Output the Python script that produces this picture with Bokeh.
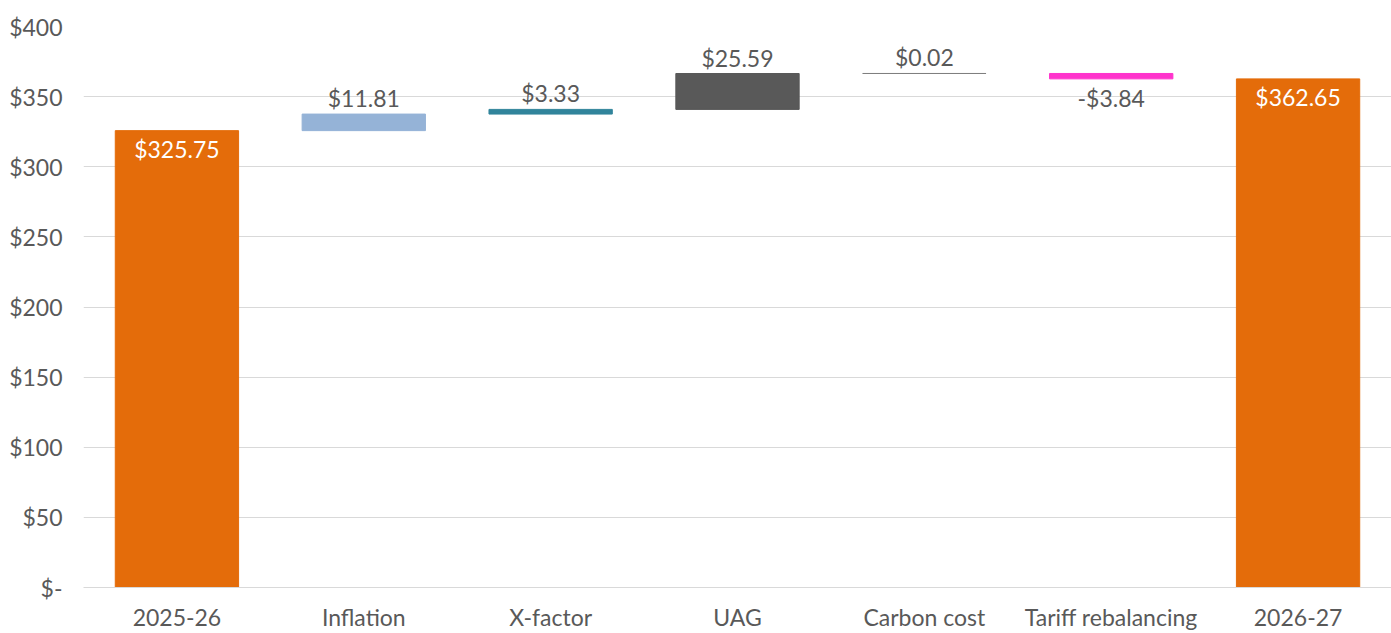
from bokeh.plotting import figure
from bokeh.models import ColumnDataSource, LabelSet, FixedTicker, CustomJSTickFormatter
from bokeh.core.properties import value
from bokeh.embed import file_html
from bokeh.resources import INLINE

categories = ["2025-26", "Inflation", "X-factor", "UAG", "Carbon cost", "Tariff rebalancing", "2026-27"]
start_value = 325.75
deltas = [11.81, 3.33, 25.59, 0.02, -3.84]
end_value = 362.65
labels = ["$325.75", "$11.81", "$3.33", "$25.59", "$0.02", "-$3.84", "$362.65"]
colors = ["#E46C0A", "#95B3D7", "#31849B", "#595959", "#7F7F7F", "#FF33CC", "#E46C0A"]
y_ticks = [0, 50, 100, 150, 200, 250, 300, 350, 400]

bottoms, tops = [0.0], [start_value]
running = start_value
for d in deltas:
    nxt = running + d
    bottoms.append(min(running, nxt))
    tops.append(max(running, nxt))
    running = nxt
bottoms.append(0.0)
tops.append(end_value)

FONT = "Lato"
GRAY = "#595959"
FS = "23px"

p = figure(x_range=categories, y_range=(0, 400), width=1391, height=633,
           output_backend="svg", toolbar_location=None,
           min_border_left=83, min_border_right=0, min_border_top=26, min_border_bottom=46)
p.outline_line_color = None
p.background_fill_color = "white"

src = ColumnDataSource(dict(x=categories, bottom=bottoms, top=tops, color=colors))
p.vbar(x="x", bottom="bottom", top="top", width=0.66, fill_color="color",
       line_color="color", line_width=1, source=src)

# labels
up_x, up_y, up_t = [], [], []
dn_x, dn_y, dn_t = [], [], []
in_x, in_y, in_t = [], [], []
for i, c in enumerate(categories):
    if i == 0 or i == len(categories) - 1:
        in_x.append(c); in_y.append(tops[i]); in_t.append(labels[i])
    elif deltas[i - 1] >= 0:
        up_x.append(c); up_y.append(tops[i]); up_t.append(labels[i])
    else:
        dn_x.append(c); dn_y.append(bottoms[i]); dn_t.append(labels[i])

common = dict(text_font=value(FONT), text_font_size=value(FS), text_align="center")
p.add_layout(LabelSet(x="x", y="y", text="t", source=ColumnDataSource(dict(x=up_x, y=up_y, t=up_t)),
                      text_baseline="bottom", y_offset=2, text_color=GRAY, **common))
p.add_layout(LabelSet(x="x", y="y", text="t", source=ColumnDataSource(dict(x=dn_x, y=dn_y, t=dn_t)),
                      text_baseline="top", y_offset=-5, text_color=GRAY, **common))
p.add_layout(LabelSet(x="x", y="y", text="t", source=ColumnDataSource(dict(x=in_x, y=in_y, t=in_t)),
                      text_baseline="top", y_offset=-4, text_color="white", **common))

p.yaxis.ticker = FixedTicker(ticks=y_ticks)
p.yaxis.formatter = CustomJSTickFormatter(code="return tick == 0 ? '$-' : '$' + tick.toFixed(0);")
p.yaxis.axis_line_color = None
p.yaxis.major_tick_line_color = None
p.yaxis.minor_tick_line_color = None
p.yaxis.major_label_standoff = 15
p.yaxis.major_label_text_font = FONT
p.yaxis.major_label_text_font_size = FS
p.yaxis.major_label_text_color = GRAY

p.xaxis.axis_line_color = "#D9D9D9"
p.xaxis.major_tick_line_color = None
p.xaxis.minor_tick_line_color = None
p.xaxis.major_label_standoff = 9
p.xaxis.major_label_text_font = FONT
p.xaxis.major_label_text_font_size = FS
p.xaxis.major_label_text_color = GRAY

p.xgrid.grid_line_color = None
p.ygrid.grid_line_color = "#D9D9D9"
p.ygrid.grid_line_width = 1

open("out.html", "w").write(file_html(p, INLINE))
